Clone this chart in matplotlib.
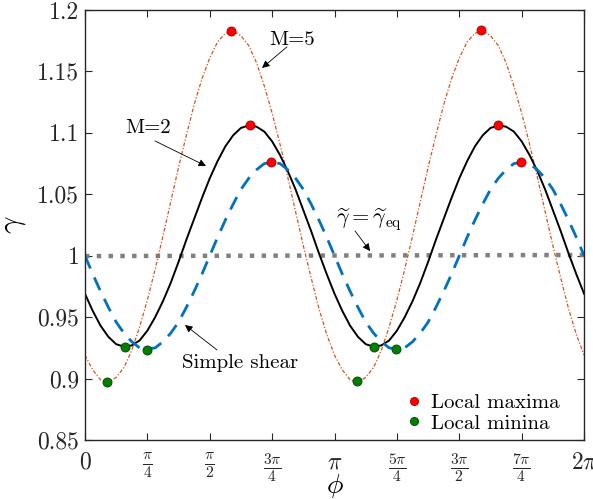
import numpy as np
import matplotlib
matplotlib.use("Agg")
import matplotlib.pyplot as plt

plt.rcParams['font.family'] = ['cmr10', 'DejaVu Serif']
plt.rcParams['mathtext.fontset'] = 'cm'
plt.rcParams['axes.unicode_minus'] = False

# phi sampled every pi/32 over [0, 2pi]
phi = np.arange(65) * np.pi / 32

# values
gamma_shear = [1.000, 0.985, 0.971, 0.958, 0.946, 0.937, 0.930, 0.925, 0.924, 0.925, 0.930,
               0.937, 0.946, 0.958, 0.971, 0.985, 1.000, 1.015, 1.029, 1.042, 1.054, 1.063,
               1.070, 1.075, 1.076, 1.075, 1.070, 1.063, 1.054, 1.042, 1.029, 1.015,
               1.000, 0.985, 0.971, 0.958, 0.946, 0.937, 0.930, 0.925, 0.924, 0.925, 0.930,
               0.937, 0.946, 0.958, 0.971, 0.985, 1.000, 1.015, 1.029, 1.042, 1.054, 1.063,
               1.070, 1.075, 1.076, 1.075, 1.070, 1.063, 1.054, 1.042, 1.029, 1.015, 1.000]
gamma_m2 = [0.969, 0.955, 0.943, 0.934, 0.928, 0.926, 0.927, 0.931, 0.939, 0.950, 0.963,
            0.978, 0.995, 1.013, 1.030, 1.047, 1.063, 1.077, 1.089, 1.098, 1.104, 1.106,
            1.105, 1.101, 1.093, 1.082, 1.069, 1.054, 1.037, 1.020, 1.002, 0.985,
            0.969, 0.955, 0.943, 0.934, 0.928, 0.926, 0.927, 0.931, 0.939, 0.950, 0.963,
            0.978, 0.995, 1.013, 1.030, 1.047, 1.063, 1.077, 1.089, 1.098, 1.104, 1.106,
            1.105, 1.101, 1.093, 1.082, 1.069, 1.054, 1.037, 1.020, 1.002, 0.985, 0.969]
gamma_m5 = [0.919, 0.907, 0.899, 0.897, 0.901, 0.909, 0.923, 0.942, 0.964, 0.989, 1.016,
            1.044, 1.072, 1.098, 1.123, 1.144, 1.161, 1.174, 1.181, 1.183, 1.179, 1.171,
            1.157, 1.138, 1.116, 1.091, 1.064, 1.036, 1.008, 0.982, 0.957, 0.936,
            0.919, 0.907, 0.899, 0.897, 0.901, 0.909, 0.923, 0.942, 0.964, 0.989, 1.016,
            1.044, 1.072, 1.098, 1.123, 1.144, 1.161, 1.174, 1.181, 1.183, 1.179, 1.171,
            1.157, 1.138, 1.116, 1.091, 1.064, 1.036, 1.008, 0.982, 0.957, 0.936, 0.919]

phi_eq = [0, 2 * np.pi]
gamma_eq = [0.9997, 1.0006]

phi_max = [1.838, 2.078, 2.342, 4.982, 5.196, 5.486]
gamma_max = [1.183, 1.106, 1.076, 1.184, 1.106, 1.0765]
phi_min = [0.281, 0.504, 0.785, 3.425, 3.643, 3.916]
gamma_min = [0.8975, 0.926, 0.9235, 0.898, 0.926, 0.924]

xticks = np.arange(9) * np.pi / 4
xticklabels = ['0', r'$\frac{\pi}{4}$', r'$\frac{\pi}{2}$', r'$\frac{3\pi}{4}$', r'$\pi$',
               r'$\frac{5\pi}{4}$', r'$\frac{3\pi}{2}$', r'$\frac{7\pi}{4}$', r'$2\pi$']
yticks = [0.85, 0.9, 0.95, 1.0, 1.05, 1.1, 1.15, 1.2]
yticklabels = ['0.85', '0.9', '0.95', '1', '1.05', '1.1', '1.15', '1.2']

fig = plt.figure(figsize=(5.93, 4.99), dpi=100)
ax = fig.add_axes([0.1433, 0.1182, 0.8417, 0.8618])

ax.plot(phi_eq, gamma_eq, ':', color='#808080', lw=3.2)
ax.plot(phi, gamma_m5, '-.', color='#D95319', lw=0.9, dashes=(3, 1.5, 1, 1.5))
ax.plot(phi, gamma_m2, '-', color='k', lw=1.4)
ax.plot(phi, gamma_shear, '--', color='#0072BD', lw=2.0, dashes=(5, 3.5))

ax.plot(phi_max, gamma_max, 'o', color='red', mec='#a00000', mew=0.6, ms=6.5,
        label='Local maxima')
ax.plot(phi_min, gamma_min, 'o', color='green', mec='#004000', mew=0.6, ms=6.5,
        label='Local minina')

arrow = dict(arrowstyle='-|>', color='k', lw=0.6, mutation_scale=11, shrinkA=0, shrinkB=0)
ax.annotate('', xy=(2.229, 1.1528), xytext=(2.543, 1.170), arrowprops=arrow)
ax.text(2.606, 1.1756, 'M=5', fontsize=15, ha='center', va='center')
ax.annotate('', xy=(1.524, 1.073), xytext=(0.881, 1.0934), arrowprops=arrow)
ax.text(0.793, 1.104, 'M=2', fontsize=15, ha='center', va='center')
ax.annotate('', xy=(1.259, 0.9436), xytext=(1.662, 0.9233), arrowprops=arrow)
ax.text(1.952, 0.9127, 'Simple shear', fontsize=15, ha='center', va='center')
ax.annotate('', xy=(3.589, 1.0038), xytext=(3.400, 1.0201), arrowprops=arrow)
ax.text(3.576, 1.029, r'$\widetilde{\gamma}=\widetilde{\gamma}_{\rm eq}$', fontsize=16,
        ha='center', va='center')

ax.set_xlim(0, 2 * np.pi)
ax.set_ylim(0.85, 1.2)
ax.set_xticks(xticks)
ax.set_xticklabels(xticklabels)
ax.set_yticks(yticks)
ax.set_yticklabels(yticklabels)
ax.tick_params(direction='in', top=True, right=True, length=5, width=0.8,
               colors='#262626', labelsize=17)
ax.tick_params(axis='x', pad=8)
ax.tick_params(axis='y', pad=4)
for lbl in ax.get_xticklabels():
    if 'frac' in lbl.get_text():
        lbl.set_fontsize(16)
for s in ax.spines.values():
    s.set_color('#262626')
    s.set_linewidth(1.0)

ax.set_xlabel(r'$\phi$', fontsize=20)
ax.xaxis.set_label_coords(0.5, -0.074)
ax.set_ylabel(r'$\gamma$', fontsize=22)
ax.yaxis.set_label_coords(-0.115, 0.5)

ax.legend(loc='lower right', bbox_to_anchor=(0.975, -0.012), frameon=False, fontsize=15,
          handletextpad=0.2, handlelength=1.2, labelspacing=0.1, borderaxespad=0.2,
          markerscale=0.9)

fig.savefig('out.png', dpi=100)
